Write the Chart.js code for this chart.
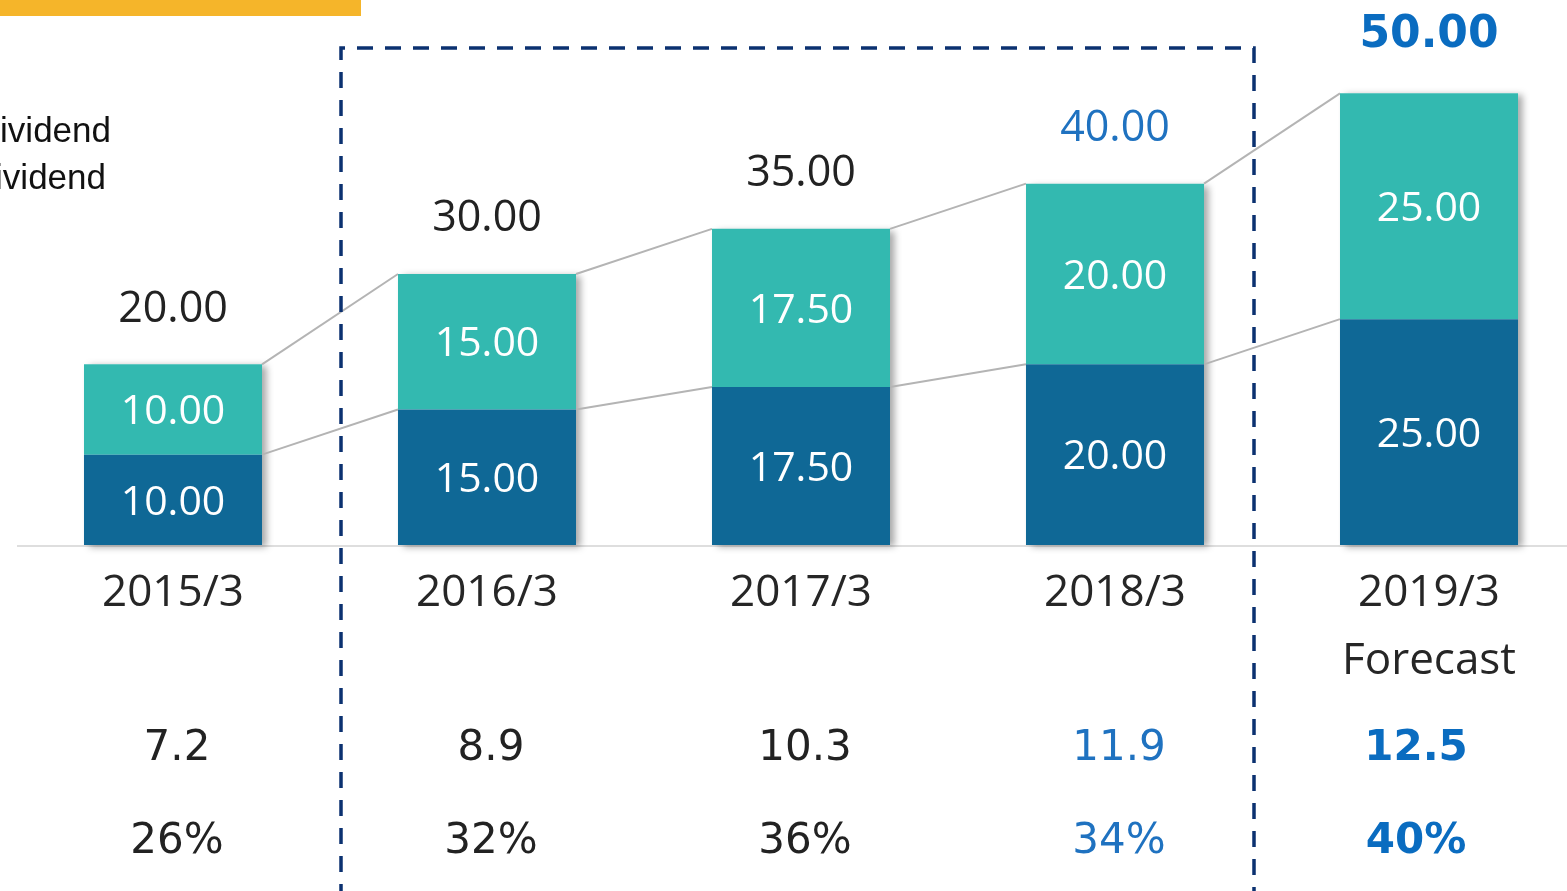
<!DOCTYPE html>
<html>
<head>
<meta charset="utf-8">
<script src="https://cdn.jsdelivr.net/npm/chart.js@4"></script>
<style>
  html, body { margin: 0; padding: 0; background: #fff; overflow: hidden; }
  #wrap { width: 1567px; height: 891px; overflow: hidden; position: relative; }
  #box { width: 1600px; height: 891px; }
</style>
</head>
<body>
<div id="wrap"><div id="box"><canvas id="dividend-chart"></canvas></div></div>
<script>
/* ── Data ── */
const YEARS     = ['2015/3', '2016/3', '2017/3', '2018/3', '2019/3'];
const SUB_LABEL = ['', '', '', '', 'Forecast'];
const INTERIM   = [10, 15, 17.5, 20, 25];
const YEAR_END  = [10, 15, 17.5, 20, 25];
const EPS_ROW   = [7.2, 8.9, 10.3, 11.9, 12.5];
const PAYOUT    = [26, 32, 36, 34, 40];

/* ── Styles ── */
const DARK  = '#0f6896';
const TEAL  = '#33b9b0';
const TXT   = '#222';
const COL_COLOR = [TXT, TXT, TXT, '#1f72c0', '#0a6cc0'];
const COL_BOLD  = [false, false, false, false, true];
const MEI   = '"Open Sans", "Noto Sans", sans-serif';
const VER   = '"DejaVu Sans", Verdana, sans-serif';

/* ── Decorations, shadows, connector lines, labels ── */
const decoPlugin = {
  id: 'deco',
  beforeDatasetsDraw(chart) {
    const { ctx, chartArea } = chart;
    // baseline
    ctx.save();
    ctx.strokeStyle = '#dedede';
    ctx.lineWidth = 2;
    ctx.beginPath();
    ctx.moveTo(17, chartArea.bottom + 1);
    ctx.lineTo(chart.width, chartArea.bottom + 1);
    ctx.stroke();
    ctx.restore();

    // bar shadows
    const m0 = chart.getDatasetMeta(0).data;
    const m1 = chart.getDatasetMeta(1).data;
    ctx.save();
    ctx.shadowColor = 'rgba(0,0,0,0.35)';
    ctx.shadowBlur = 7;
    ctx.shadowOffsetX = 5;
    ctx.shadowOffsetY = 2;
    ctx.fillStyle = '#fff';
    m1.forEach((bar, i) => {
      const w = bar.width;
      ctx.fillRect(bar.x - w / 2, bar.y, w, m0[i].base - bar.y);
    });
    ctx.restore();

    // connector lines
    ctx.save();
    ctx.strokeStyle = '#b4b4b4';
    ctx.lineWidth = 2;
    [m0, m1].forEach(list => {
      for (let i = 0; i < list.length - 1; i++) {
        const a = list[i], b = list[i + 1];
        ctx.beginPath();
        ctx.moveTo(a.x + a.width / 2, a.y);
        ctx.lineTo(b.x - b.width / 2, b.y);
        ctx.stroke();
      }
    });
    ctx.restore();
  },
  afterDatasetsDraw(chart) {
    const { ctx, scales } = chart;
    const m0 = chart.getDatasetMeta(0).data;
    const m1 = chart.getDatasetMeta(1).data;
    ctx.save();
    ctx.textAlign = 'center';
    ctx.textBaseline = 'middle';

    // segment labels
    ctx.fillStyle = '#fff';
    ctx.font = '41px ' + MEI;
    m0.forEach((bar, i) => {
      ctx.fillText(INTERIM[i].toFixed(2), bar.x, (bar.y + bar.base) / 2 + 3);
      const t = m1[i];
      ctx.fillText(YEAR_END[i].toFixed(2), t.x, (t.y + t.base) / 2 + 3);
    });

    // totals
    m1.forEach((bar, i) => {
      const total = INTERIM[i] + YEAR_END[i];
      ctx.fillStyle = COL_COLOR[i];
      ctx.font = COL_BOLD[i] ? 'bold 44px ' + VER : '43px ' + MEI;
      ctx.fillText(total.toFixed(2), bar.x, bar.y - (COL_BOLD[i] ? 58 : 55));
    });

    // bottom rows
    YEARS.forEach((y, i) => {
      const x = scales.x.getPixelForValue(i);
      ctx.fillStyle = '#262626';
      ctx.font = '44px ' + MEI;
      ctx.fillText(y, x, 593);
      if (SUB_LABEL[i]) ctx.fillText(SUB_LABEL[i], x, 661);

      const dx = COL_BOLD[i] ? -13 : 4;
      ctx.fillStyle = COL_COLOR[i];
      ctx.font = (COL_BOLD[i] ? 'bold ' : '') + '42px ' + VER;
      ctx.fillText(EPS_ROW[i].toFixed(1), x + dx, 749);
      ctx.fillText(PAYOUT[i] + '%', x + dx, 842);
    });

    // legend text (clipped at left edge)
    ctx.fillStyle = '#111';
    ctx.textAlign = 'right';
    ctx.textBaseline = 'alphabetic';
    ctx.font = '35px "Liberation Sans", Arial, sans-serif';
    ctx.fillText('Year-end dividend', 111, 142);
    ctx.fillText('Interim dividend', 106, 189);

    // yellow tab
    ctx.fillStyle = '#f5b52a';
    ctx.fillRect(0, 0, 361, 16);

    // dashed frame
    ctx.strokeStyle = '#0b3170';
    ctx.lineWidth = 3.5;
    ctx.setLineDash([16, 12]);
    ctx.beginPath();
    ctx.moveTo(341, 900);
    ctx.lineTo(341, 48);
    ctx.lineTo(1254, 48);
    ctx.lineTo(1254, 900);
    ctx.stroke();
    ctx.restore();
  },
};

/* ── Chart ── */
new Chart(document.getElementById('dividend-chart'), {
  type: 'bar',
  plugins: [decoPlugin],
  data: {
    labels: YEARS,
    datasets: [
      {
        label:           'Interim dividend',
        data:            INTERIM,
        backgroundColor: DARK,
        borderWidth:     0,
      },
      {
        label:           'Year-end dividend',
        data:            YEAR_END,
        backgroundColor: TEAL,
        borderWidth:     0,
      },
    ],
  },
  options: {
    responsive:          true,
    maintainAspectRatio: false,
    animation:           false,
    barPercentage:       0.567,
    categoryPercentage:  1,
    layout: { padding: { left: 16, right: 14, top: 3, bottom: 346 } },
    plugins: {
      legend:  { display: false },
      tooltip: { enabled: false },
    },
    scales: {
      x: { stacked: true, display: false },
      y: { stacked: true, display: false, min: 0, max: 60 },
    },
  },
});
</script>
</body>
</html>
